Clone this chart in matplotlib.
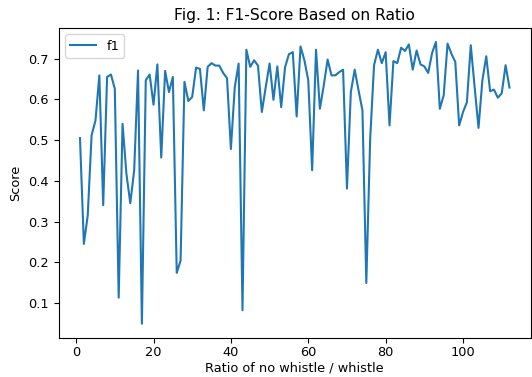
import numpy as np
import matplotlib
matplotlib.use('Agg')
from matplotlib import pyplot as plt

# f1 score for each ratio
ratio = list(range(1, 113))
f1 = [0.505, 0.245, 0.315, 0.512, 0.548, 0.659, 0.340, 0.655, 0.661, 0.626,
      0.113, 0.540, 0.417, 0.345, 0.425, 0.671, 0.049, 0.647, 0.661, 0.587,
      0.686, 0.457, 0.670, 0.618, 0.655, 0.174, 0.204, 0.643, 0.596, 0.606,
      0.678, 0.675, 0.573, 0.680, 0.689, 0.683, 0.683, 0.665, 0.652, 0.478,
      0.630, 0.688, 0.082, 0.722, 0.680, 0.696, 0.683, 0.569, 0.630, 0.688,
      0.599, 0.681, 0.581, 0.679, 0.711, 0.716, 0.558, 0.730, 0.696, 0.647,
      0.426, 0.722, 0.577, 0.634, 0.698, 0.659, 0.659, 0.667, 0.673, 0.381,
      0.618, 0.673, 0.622, 0.573, 0.149, 0.503, 0.684, 0.722, 0.689, 0.716,
      0.536, 0.694, 0.689, 0.727, 0.719, 0.735, 0.673, 0.720, 0.686, 0.681,
      0.665, 0.714, 0.741, 0.577, 0.610, 0.737, 0.712, 0.692, 0.536, 0.569,
      0.593, 0.733, 0.630, 0.530, 0.647, 0.706, 0.620, 0.624, 0.604, 0.615,
      0.684, 0.629]

matplotlib.rcParams['font.size'] = 9.3
fig = plt.figure(figsize=(5.32, 3.77), dpi=100)
ax = fig.add_axes([0.110, 0.104, 0.888, 0.822])
ax.plot(ratio, f1, label='f1')
ax.set_title('Fig. 1: F1-Score Based on Ratio')
ax.set_xlabel('Ratio of no whistle / whistle', labelpad=2)
ax.set_ylabel('Score')
ax.tick_params(axis='x', pad=2.5)
ax.legend(loc='upper left')
plt.savefig('out.png', dpi=100)
